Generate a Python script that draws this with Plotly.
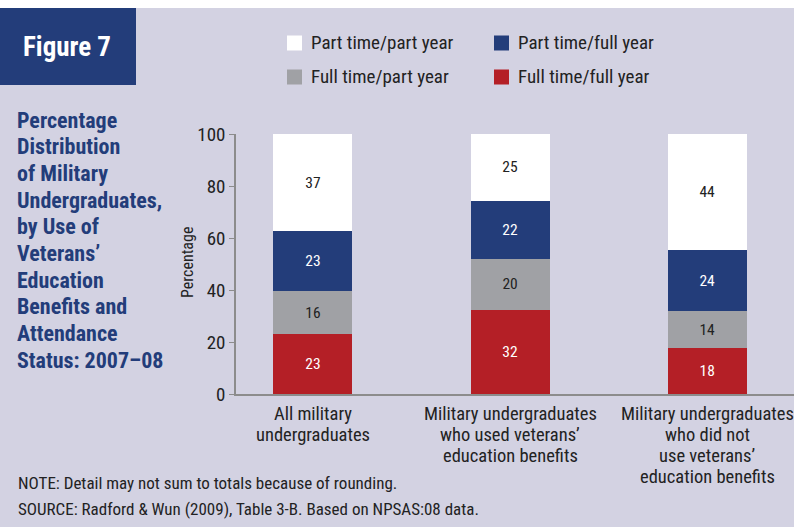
import plotly.graph_objects as go

categories = ["All military<br>undergraduates",
              "Military undergraduates<br>who used veterans’<br>education benefits",
              "Military undergraduates<br>who did not<br>use veterans’<br>education benefits"]
series_names = ["Full time/full year", "Full time/part year", "Part time/full year", "Part time/part year"]
ft_fy = [23.1, 32.3, 17.6]
ft_py = [16.4, 19.7, 14.2]
pt_fy = [23.1, 22.3, 23.6]
pt_py = [37.4, 25.7, 44.6]
ft_fy_lbl = ["23", "32", "18"]
ft_py_lbl = ["16", "20", "14"]
pt_fy_lbl = ["23", "22", "24"]
pt_py_lbl = ["37", "25", "44"]
y_ticks = [0, 20, 40, 60, 80, 100]

colors = ["#b41f26", "#a0a1a5", "#233d7a", "#ffffff"]
text_colors = ["#ffffff", "#222222", "#ffffff", "#222222"]
FONT = "Liberation Sans Narrow, Roboto Condensed, Arial Narrow, Liberation Sans, sans-serif"
BG = "#d3d2e2"

fig = go.Figure()
xs = [0, 1, 2]
for vals, lbls, name, c, tc in zip([ft_fy, ft_py, pt_fy, pt_py],
                                   [ft_fy_lbl, ft_py_lbl, pt_fy_lbl, pt_py_lbl],
                                   series_names, colors, text_colors):
    fig.add_trace(go.Bar(x=xs, y=vals, name=name, marker=dict(color=c, line=dict(width=0)),
                         width=0.40, text=lbls, textposition="inside", insidetextanchor="middle",
                         textfont=dict(family=FONT, size=15.5, color=tc), textangle=0,
                         showlegend=False, hoverinfo="skip"))

fig.update_layout(
    barmode="stack",
    width=794, height=527,
    paper_bgcolor=BG, plot_bgcolor=BG,
    margin=dict(l=236, r=0, t=134, b=133),
    font=dict(family=FONT, color="#222222"),
    uniformtext=dict(minsize=10, mode="show"),
    xaxis=dict(range=[-0.39, 2.44], tickmode="array", tickvals=xs, ticktext=[""] * 3,
               showline=True, linecolor="#8c8c8c", linewidth=1.5, ticks="",
               showgrid=False, zeroline=False, fixedrange=True),
    yaxis=dict(range=[0, 100], tickmode="array", tickvals=y_ticks,
               showline=True, linecolor="#8c8c8c", linewidth=1.5, ticks="outside",
               ticklen=5, tickcolor="#8c8c8c", showgrid=False, zeroline=False,
               tickfont=dict(size=19, color="#222222")),
)

def px_x(px):
    return (px - 236) / 558
def px_y(py):
    return (394 - py) / 260

shapes = []
shapes.append(dict(type="rect", xref="paper", yref="paper", x0=px_x(0), x1=px_x(794),
                   y0=px_y(8), y1=px_y(-2), fillcolor="#ffffff", line=dict(width=0), layer="below"))
shapes.append(dict(type="rect", xref="paper", yref="paper", x0=px_x(0), x1=px_x(136),
                   y0=px_y(85), y1=px_y(8), fillcolor="#233d7a", line=dict(width=0)))

legend_items = [
    ("Part time/part year", "#ffffff", 287, 43),
    ("Part time/full year", "#233d7a", 494, 43),
    ("Full time/part year", "#a0a1a5", 287, 77),
    ("Full time/full year", "#b41f26", 494, 77),
]
annotations = []
for txt, col, x0, yc in legend_items:
    shapes.append(dict(type="rect", xref="paper", yref="paper", x0=px_x(x0), x1=px_x(x0 + 15),
                       y0=px_y(yc + 7.5), y1=px_y(yc - 7.5), fillcolor=col, line=dict(width=0)))
    annotations.append(dict(text=txt, xref="paper", yref="paper", x=px_x(x0 + 22), y=px_y(yc),
                            xanchor="left", yanchor="middle", showarrow=False,
                            font=dict(size=19, color="#222222", family=FONT)))

# category labels (tight line spacing like the reference)
for xi, cat in zip(xs, categories):
    for j, ln in enumerate(cat.split("<br>")):
        annotations.append(dict(text=ln, xref="x", yref="paper", x=xi, y=px_y(414 + j * 21),
                                xanchor="center", yanchor="middle", showarrow=False,
                                font=dict(size=18.5, color="#222222", family=FONT)))

annotations.append(dict(text="Percentage", xref="paper", yref="paper", x=px_x(187), y=px_y(263),
                        xanchor="center", yanchor="middle", showarrow=False, textangle=-90,
                        font=dict(size=16, color="#222222", family=FONT)))

annotations.append(dict(text="<b>Figure 7</b>", xref="paper", yref="paper", x=px_x(67), y=px_y(47),
                        xanchor="center", yanchor="middle", showarrow=False,
                        font=dict(size=27, color="#ffffff", family=FONT)))

title_lines = ["Percentage", "Distribution", "of Military", "Undergraduates,", "by Use of",
               "Veterans’", "Education", "Benefits and", "Attendance", "Status: 2007–08"]
for i, ln in enumerate(title_lines):
    annotations.append(dict(text="<b>" + ln + "</b>", xref="paper", yref="paper", x=px_x(15),
                            y=px_y(120 + i * 26.7), xanchor="left", yanchor="middle", showarrow=False,
                            font=dict(size=22, color="#233d7a", family=FONT)))

notes = ["NOTE: Detail may not sum to totals because of rounding.",
         "SOURCE: Radford & Wun (2009), Table 3-B. Based on NPSAS:08 data."]
for i, ln in enumerate(notes):
    annotations.append(dict(text=ln, xref="paper", yref="paper", x=px_x(16), y=px_y(483 + i * 26),
                            xanchor="left", yanchor="middle", showarrow=False,
                            font=dict(size=17, color="#222222", family=FONT)))

fig.update_layout(shapes=shapes, annotations=annotations)
fig.write_html("out.html", config={"displayModeBar": False},
               post_script="document.body.style.margin='0';document.body.style.padding='0';")
